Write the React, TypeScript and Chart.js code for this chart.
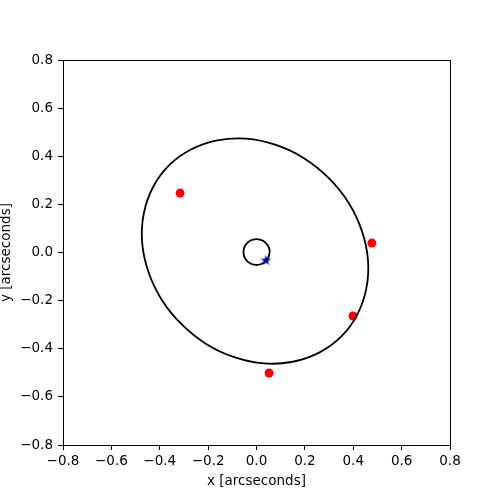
import React, { useEffect, useRef } from "react";
import { Chart, registerables } from "chart.js";

Chart.register(...registerables);

// Orbit (large ellipse), clockwise from the top (closing points overlap)
const orbitX = [-0.162, -0.043, 0.080, 0.196, 0.298, 0.380, 0.435, 0.461, 0.454, 0.416, 0.350, 0.259, 0.150, 0.031, -0.092, -0.208, -0.310, -0.392, -0.447, -0.473, -0.466, -0.428, -0.362, -0.271, -0.162, -0.043, 0.080];
const orbitY = [0.466, 0.473, 0.447, 0.392, 0.310, 0.208, 0.092, -0.031, -0.150, -0.259, -0.350, -0.416, -0.454, -0.461, -0.435, -0.380, -0.298, -0.196, -0.080, 0.043, 0.162, 0.271, 0.362, 0.428, 0.466, 0.473, 0.447];

// Small circle near the origin (closing points overlap)
const ringX = [0.027, 0.054, 0.047, 0.027, 0.0, -0.027, -0.047, -0.054, -0.047, -0.027, 0.0, 0.027, 0.047, 0.054, 0.047];
const ringY = [-0.045, 0.002, 0.029, 0.049, 0.056, 0.049, 0.029, 0.002, -0.025, -0.045, -0.052, -0.045, -0.025, 0.002, 0.029];

// Observed positions (red dots)
const obsX = [-0.316, 0.477, 0.399, 0.052];
const obsY = [0.247, 0.039, -0.264, -0.501];

// Star (blue)
const starX = [0.039];
const starY = [-0.031];

const tickValues = [-0.8, -0.6, -0.4, -0.2, 0.0, 0.2, 0.4, 0.6, 0.8];

const zip = (xs: number[], ys: number[]) => xs.map((x, i) => ({ x, y: ys[i] }));

// hide the first and last (overlap helper) segments so the loop is drawn once, smoothly
const loopSegment = (n: number) => ({
  borderColor: (ctx: any) =>
    ctx.p0DataIndex === 0 || ctx.p1DataIndex === n - 1 ? "rgba(0,0,0,0)" : "#000",
});

function makeStar(size: number, color: string) {
  const c = document.createElement("canvas");
  c.width = size;
  c.height = size;
  const ctx = c.getContext("2d")!;
  const cx = size / 2, cy = size / 2 + size * 0.05;
  const R = size / 2, r = R * 0.42;
  ctx.beginPath();
  for (let i = 0; i < 10; i++) {
    const ang = -Math.PI / 2 + (i * Math.PI) / 5;
    const rad = i % 2 === 0 ? R : r;
    const px = cx + rad * Math.cos(ang);
    const py = cy + rad * Math.sin(ang);
    if (i === 0) ctx.moveTo(px, py);
    else ctx.lineTo(px, py);
  }
  ctx.closePath();
  ctx.fillStyle = color;
  ctx.fill();
  return c;
}

const fmt = (v: number) => {
  if (Math.abs(v) < 1e-9) return "0.0";
  const s = Math.abs(v).toFixed(1);
  return v < 0 ? "\u2212" + s : s;
};

const frame = {
  id: "frame",
  afterDraw(chart: any) {
    const { ctx, chartArea } = chart;
    ctx.save();
    ctx.strokeStyle = "#000";
    ctx.lineWidth = 1;
    ctx.strokeRect(
      Math.round(chartArea.left) + 0.5,
      Math.round(chartArea.top) + 0.5,
      Math.round(chartArea.right - chartArea.left),
      Math.round(chartArea.bottom - chartArea.top)
    );
    ctx.restore();
  },
};

export default function App() {
  const ref = useRef<HTMLCanvasElement | null>(null);
  useEffect(() => {
    if (!ref.current) return;
    const star = makeStar(11, "#0000ff");
    const tickFont = { family: "DejaVu Sans", size: 13.5 };
    const chart = new Chart(ref.current, {
      type: "scatter",
      data: {
        datasets: [
          {
            data: zip(orbitX, orbitY),
            showLine: true,
            borderColor: "#000",
            borderWidth: 1.8,
            pointRadius: 0,
            tension: 0.4,
            fill: false,
            segment: loopSegment(orbitX.length),
          },
          {
            data: zip(ringX, ringY),
            showLine: true,
            borderColor: "#000",
            borderWidth: 1.8,
            pointRadius: 0,
            tension: 0.4,
            fill: false,
            segment: loopSegment(ringX.length),
          },
          {
            data: zip(obsX, obsY),
            pointRadius: 4.5,
            pointBackgroundColor: "#ff0000",
            pointBorderColor: "#ff0000",
            pointBorderWidth: 0,
          },
          {
            data: zip(starX, starY),
            pointStyle: star as any,
            pointRadius: 5,
          },
        ],
      },
      options: {
        animation: false,
        responsive: false,
        plugins: { legend: { display: false }, tooltip: { enabled: false } },
        layout: { padding: { left: 0, top: 60, right: 50, bottom: 12 } },
        scales: {
          x: {
            type: "linear",
            min: -0.8,
            max: 0.8,
            afterFit: (s: any) => { s.height = 43; },
            afterBuildTicks: (s: any) => { s.ticks = tickValues.map((v) => ({ value: v })); },
            grid: { drawOnChartArea: false, drawTicks: true, tickLength: 5, color: "#000" },
            border: { display: true, color: "#000" },
            ticks: { color: "#000", font: tickFont, padding: 3, callback: (v: any) => fmt(Number(v)), maxRotation: 0 },
            title: { display: true, text: "x [arcseconds]", color: "#000", font: { family: "DejaVu Sans", size: 13.5, lineHeight: 1 }, padding: 0 },
          },
          y: {
            type: "linear",
            min: -0.8,
            max: 0.8,
            afterFit: (s: any) => { s.width = 63; },
            afterBuildTicks: (s: any) => { s.ticks = tickValues.map((v) => ({ value: v })); },
            grid: { drawOnChartArea: false, drawTicks: true, tickLength: 5, color: "#000" },
            border: { display: true, color: "#000" },
            ticks: { color: "#000", font: tickFont, padding: 5, callback: (v: any) => fmt(Number(v)) },
            title: { display: true, text: "y [arcseconds]", color: "#000", font: { family: "DejaVu Sans", size: 13.5, lineHeight: 1 }, padding: 0 },
          },
        },
      },
      plugins: [frame],
    });
    return () => chart.destroy();
  }, []);
  return (
    <div style={{ position: "absolute", left: 0, top: 0, width: 500, height: 500, background: "#fff" }}>
      <canvas ref={ref} width={500} height={500} style={{ width: 500, height: 500 }} />
    </div>
  );
}
